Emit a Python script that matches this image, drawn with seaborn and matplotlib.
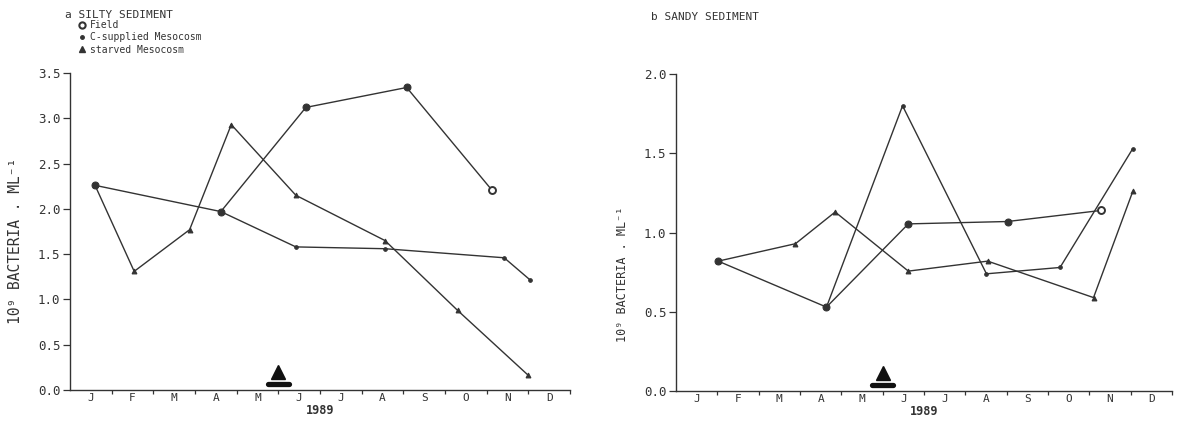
import numpy as np
import pandas as pd
import seaborn as sns
import matplotlib.pyplot as plt
from matplotlib.lines import Line2D

sns.set_theme(style="ticks")
plt.rcParams["font.family"] = ["DejaVu Sans Mono", "DejaVu Sans"]

INK = "#333333"

# Month axis: 0 = 1 January, 12 = 31 December 1989
month_letters = ["J", "F", "M", "A", "M", "J", "J", "A", "S", "O", "N", "D"]
event_month = 5.0  # marked date on the time axis

# Panel a: silty sediment (10^9 bacteria per ml)
silty_field_t = [0.6, 3.62, 5.66, 8.08, 10.12]
silty_field_v = [2.26, 1.97, 3.12, 3.34, 2.21]
silty_csup_t = [3.62, 5.42, 7.56, 10.42, 11.03]
silty_csup_v = [1.97, 1.58, 1.56, 1.46, 1.22]
silty_starv_t = [0.6, 1.54, 2.87, 3.87, 5.42, 7.56, 9.30, 10.98]
silty_starv_v = [2.26, 1.31, 1.77, 2.93, 2.15, 1.65, 0.88, 0.17]

# Panel b: sandy sediment
sandy_field_t = [1.02, 3.64, 5.62, 8.02, 10.29]
sandy_field_v = [0.82, 0.53, 1.055, 1.07, 1.14]
sandy_csup_t = [3.64, 5.48, 7.51, 9.29, 11.05]
sandy_csup_v = [0.53, 1.80, 0.74, 0.78, 1.53]
sandy_starv_t = [1.02, 2.89, 3.85, 5.62, 7.54, 10.10, 11.05]
sandy_starv_v = [0.82, 0.93, 1.13, 0.757, 0.82, 0.59, 1.26]

silty_yticks = [0.0, 0.5, 1.0, 1.5, 2.0, 2.5, 3.0, 3.5]
sandy_yticks = [0.0, 0.5, 1.0, 1.5, 2.0]

fig = plt.figure(figsize=(11.91, 4.21), dpi=100)
ax_a = fig.add_axes([0.0588, 0.0736, 0.4198, 0.753])
ax_b = fig.add_axes([0.5676, 0.0710, 0.4165, 0.753])


def draw_panel(ax, ft, fv, ct, cv, st, sv, yticks, ylab_size, ylab_y):
    line_kw = dict(ax=ax, sort=False, estimator=None, color=INK, lw=1.0, legend=False)
    # starved mesocosm
    sns.lineplot(x=st, y=sv, marker="^", markersize=3.5, markeredgecolor=INK,
                 markerfacecolor=INK, **line_kw)
    # carbon-supplied mesocosm
    sns.lineplot(x=ct, y=cv, marker="o", markersize=2.6, markeredgecolor=INK,
                 markerfacecolor=INK, **line_kw)
    # field samples; the last sample drawn as an open circle
    sns.lineplot(x=ft, y=fv, marker="o", markersize=5.0, markeredgecolor=INK,
                 markerfacecolor=INK, markevery=list(range(len(ft) - 1)), **line_kw)
    ax.plot(ft[-1], fv[-1], marker="o", ms=5.0, mfc="white", mec=INK, mew=1.4,
            zorder=5)

    # event marker on the time axis
    xt = ax.get_xaxis_transform()
    ax.plot([event_month - 0.26, event_month + 0.26], [0.019, 0.019], color="#111111",
            lw=3.8, solid_capstyle="round", transform=xt, clip_on=False)
    ax.plot(event_month, 0.058, marker="^", ms=10, color="#111111", transform=xt,
            clip_on=False)

    ax.set_xlim(0, 12)
    ax.set_ylim(yticks[0], yticks[-1])
    ax.set_yticks(yticks)
    ax.set_yticklabels([f"{v:.1f}" for v in yticks])
    ax.set_xticks(np.arange(12) + 0.5)
    ax.set_xticklabels(month_letters)
    ax.set_xticks(np.arange(1, 13), minor=True)
    ax.tick_params(axis="x", which="major", length=0, labelsize=8, colors=INK, pad=2)
    ax.tick_params(axis="x", which="minor", length=3, width=0.9, direction="out",
                   color=INK)
    ax.tick_params(axis="y", which="major", length=5, width=0.9, direction="out",
                   labelsize=9, colors=INK, pad=2)
    sns.despine(ax=ax)
    for side in ("left", "bottom"):
        ax.spines[side].set_color(INK)
        ax.spines[side].set_linewidth(1.0)
    ax.set_xlabel("1989", fontsize=8.5, color=INK, fontweight="bold", labelpad=1)
    ax.set_ylabel("10⁹ BACTERIA . ML⁻¹", fontsize=ylab_size, color=INK)
    ax.yaxis.set_label_coords(-0.095, ylab_y)


draw_panel(ax_a, silty_field_t, silty_field_v, silty_csup_t, silty_csup_v,
           silty_starv_t, silty_starv_v, silty_yticks, 10.5, 0.47)
draw_panel(ax_b, sandy_field_t, sandy_field_v, sandy_csup_t, sandy_csup_v,
           sandy_starv_t, sandy_starv_v, sandy_yticks, 8.5, 0.37)

fig.text(65 / 1191, 1 - 15 / 421, "a SILTY SEDIMENT", fontsize=8, color=INK,
         va="center", ha="left")
fig.text(651 / 1191, 1 - 17 / 421, "b SANDY SEDIMENT", fontsize=8, color=INK,
         va="center", ha="left")

handles = [
    Line2D([], [], ls="none", marker="o", ms=4.5, mfc="white", mec=INK, mew=1.5),
    Line2D([], [], ls="none", marker="o", ms=2.5, mfc=INK, mec=INK),
    Line2D([], [], ls="none", marker="^", ms=4, mfc=INK, mec=INK),
]
labels = ["Field", "C-supplied Mesocosm", "starved Mesocosm"]
fig.legend(handles, labels, loc="upper left", bbox_to_anchor=(78 / 1191, 1 - 20 / 421),
           frameon=False, fontsize=7, handlelength=0.8, handletextpad=0.4,
           labelspacing=0.25, borderaxespad=0, borderpad=0, labelcolor=INK)

fig.savefig("out.png", dpi=100, facecolor="white")
